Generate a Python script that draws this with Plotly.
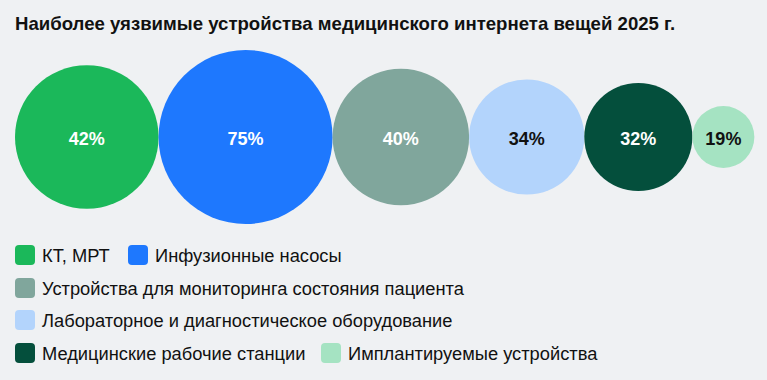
import plotly.graph_objects as go

# ---- data ----
categories = ["КТ, МРТ", "Инфузионные насосы", "Устройства для мониторинга состояния пациента",
              "Лабораторное и диагностическое оборудование", "Медицинские рабочие станции",
              "Имплантируемые устройства"]
values = [42, 75, 40, 34, 32, 19]
labels = [f"{v}%" for v in values]
title_text = "Наиболее уязвимые устройства медицинского интернета вещей 2025 г."

# ---- style ----
colors = ["#1bb85a", "#1e78fe", "#80a69c", "#b3d4fc", "#044f3c", "#a5e3c2"]
text_colors = ["#ffffff", "#ffffff", "#ffffff", "#111111", "#ffffff", "#111111"]
BG = "#eff1f3"
W, H = 767, 380
FONT = "Liberation Sans"

# bubble diameter scale (px), capped by available height
def diameter(v):
    return min(3.55 * v - 5.5, 174)

diams = [diameter(v) for v in values]
start_x, row_y, label_dy = 15, 137, 3.5
xs = []
acc = start_x
for d in diams:
    xs.append(acc + d / 2)
    acc += d
ys = [row_y] * len(values)

fig = go.Figure()
fig.add_trace(go.Scatter(
    x=xs, y=ys, mode="markers",
    marker=dict(size=diams, sizemode="diameter", color=colors, line=dict(width=0), opacity=1),
    hoverinfo="skip", showlegend=False, cliponaxis=False,
))
fig.add_trace(go.Scatter(
    x=xs, y=[y + label_dy for y in ys], mode="text",
    text=labels, textposition="middle center",
    textfont=dict(family=FONT, size=18, color=text_colors, weight="bold"),
    hoverinfo="skip", showlegend=False, cliponaxis=False,
))

# ---- manual legend ----
def rounded_square(x0, y0, s, r):
    x1, y1 = x0 + s, y0 + s
    return (f"M{x0+r},{y0} L{x1-r},{y0} Q{x1},{y0} {x1},{y0+r} L{x1},{y1-r} Q{x1},{y1} {x1-r},{y1} "
            f"L{x0+r},{y1} Q{x0},{y1} {x0},{y1-r} L{x0},{y0+r} Q{x0},{y0} {x0+r},{y0} Z")

legend_rows = [[0, 1], [2], [3], [4, 5]]
legend_row_x = [[15, 128], [15], [15], [15, 321]]
legend_row_y = [255, 288, 320, 353]
SQ = 20
shapes, annotations = [], []
for row, xr, yc in zip(legend_rows, legend_row_x, legend_row_y):
    for idx, x0 in zip(row, xr):
        shapes.append(dict(type="path", path=rounded_square(x0, yc - SQ / 2, SQ, 4),
                           xref="x", yref="y", fillcolor=colors[idx], line=dict(width=0)))
        annotations.append(dict(x=x0 + SQ + 5, y=yc, xref="x", yref="y", text=categories[idx],
                                showarrow=False, xanchor="left", yanchor="middle",
                                font=dict(family=FONT, size=18.3, color="#111111")))

annotations.append(dict(x=13, y=23, xref="x", yref="y", text=title_text, showarrow=False,
                        xanchor="left", yanchor="middle",
                        font=dict(family=FONT, size=18.6, color="#111111", weight="bold")))

fig.update_layout(
    width=W, height=H, margin=dict(l=0, r=0, t=0, b=0),
    paper_bgcolor=BG, plot_bgcolor=BG,
    xaxis=dict(range=[0, W], visible=False, fixedrange=True),
    yaxis=dict(range=[H, 0], visible=False, fixedrange=True),
    shapes=shapes, annotations=annotations, showlegend=False,
)
fig.write_html("out.html", config={"displayModeBar": False},
               post_script="document.body.style.margin='0';document.body.style.background='#eff1f3';")
